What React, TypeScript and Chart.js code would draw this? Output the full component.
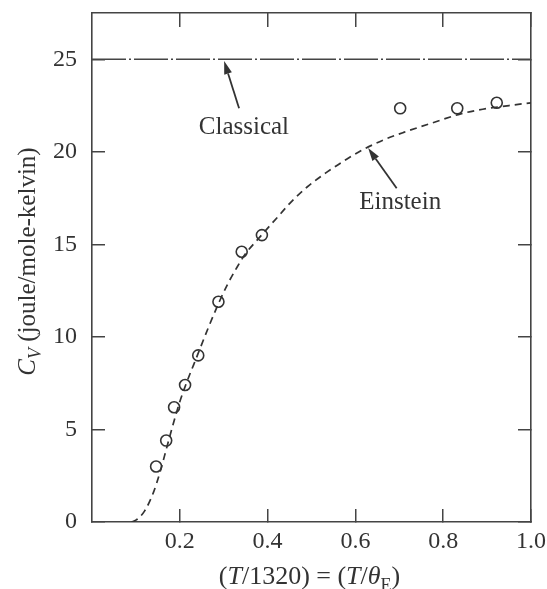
import React, { useEffect, useRef } from 'react';
import { Chart, registerables } from 'chart.js';

Chart.register(...registerables);

// ---- data ----
const classicalT = [0, 1.0];
const classicalC = [25, 25];

const einsteinT = [0.09, 0.1, 0.12, 0.14, 0.155, 0.17, 0.185, 0.2, 0.215, 0.24, 0.265, 0.29, 0.31, 0.33, 0.35, 0.375, 0.42, 0.45, 0.49, 0.535, 0.58, 0.62, 0.665, 0.71, 0.78, 0.84, 0.89, 0.95, 1.0];
const einsteinC = [0, 0.1, 0.6, 1.6, 2.7, 4.0, 5.3, 6.5, 7.5, 9.0, 10.5, 11.9, 12.9, 13.75, 14.5, 15.2, 16.4, 17.2, 18.1, 18.9, 19.6, 20.15, 20.65, 21.05, 21.6, 22.05, 22.3, 22.5, 22.65];

const measuredT = [0.146, 0.169, 0.187, 0.212, 0.242, 0.288, 0.341, 0.387, 0.702, 0.832, 0.922];
const measuredC = [3.0, 4.4, 6.2, 7.4, 9.0, 11.9, 14.6, 15.5, 22.35, 22.35, 22.65];

const xTickValues = [0.2, 0.4, 0.6, 0.8, 1.0];
const yTickValues = [0, 5, 10, 15, 20, 25];

// annotation labels: [text, x, y(baseline)] and arrows [fromX, fromY, toX, toY] in data units
const annotationLabels: [string, number, number][] = [
  ['Classical', 0.346, 20.97],
  ['Einstein', 0.702, 16.92],
];
const annotationArrows: [number, number, number, number][] = [
  [0.335, 22.35, 0.301, 24.9],
  [0.694, 18.03, 0.629, 20.2],
];

const FONT = 'Liberation Serif';
const INK = '#333333';

type Seg = { t: string; it?: boolean; sub?: boolean };

function segFont(s: Seg, size: number) {
  const sz = s.sub ? Math.round(size * 0.7) : size;
  return `${s.it ? 'italic ' : ''}${sz}px "${FONT}"`;
}

function drawSegs(ctx: CanvasRenderingContext2D, segs: Seg[], x: number, y: number, size: number) {
  const widths = segs.map((s) => {
    ctx.font = segFont(s, size);
    return ctx.measureText(s.t).width;
  });
  const total = widths.reduce((a, b) => a + b, 0);
  let cx = x - total / 2;
  segs.forEach((s, i) => {
    ctx.font = segFont(s, size);
    ctx.fillText(s.t, cx, s.sub ? y + size * 0.25 : y);
    cx += widths[i];
  });
}

const xTitle: Seg[] = [
  { t: '(' },
  { t: 'T', it: true },
  { t: '/1320) = (' },
  { t: 'T', it: true },
  { t: '/' },
  { t: 'θ', it: true },
  { t: 'E', sub: true },
  { t: ')' },
];
const yTitle: Seg[] = [
  { t: 'C', it: true },
  { t: 'V', it: true, sub: true },
  { t: ' (joule/mole-kelvin)' },
];

const textPlugin = {
  id: 'textPlugin',
  afterDatasetsDraw(chart: any) {
    const ctx: CanvasRenderingContext2D = chart.ctx;
    const xs = chart.scales.x;
    const ys = chart.scales.y;
    const area = chart.chartArea;
    ctx.save();
    ctx.fillStyle = INK;
    ctx.strokeStyle = INK;
    ctx.textAlign = 'left';
    ctx.textBaseline = 'alphabetic';

    // axis titles
    drawSegs(ctx, xTitle, (area.left + area.right) / 2 - 2, 584, 26);
    ctx.save();
    ctx.translate(35, (area.top + area.bottom) / 2 - 6);
    ctx.rotate(-Math.PI / 2);
    drawSegs(ctx, yTitle, 0, 0, 25);
    ctx.restore();

    // annotation labels
    annotationLabels.forEach(([t, x, y]) => {
      drawSegs(ctx, [{ t }], xs.getPixelForValue(x), ys.getPixelForValue(y), 25);
    });

    // arrows
    ctx.lineWidth = 1.8;
    annotationArrows.forEach(([x1, y1, x2, y2]) => {
      const px1 = xs.getPixelForValue(x1);
      const py1 = ys.getPixelForValue(y1);
      const px2 = xs.getPixelForValue(x2);
      const py2 = ys.getPixelForValue(y2);
      const ang = Math.atan2(py2 - py1, px2 - px1);
      const headLen = 13;
      const headW = 4;
      const bx = px2 - headLen * Math.cos(ang);
      const by = py2 - headLen * Math.sin(ang);
      ctx.beginPath();
      ctx.moveTo(px1, py1);
      ctx.lineTo(bx, by);
      ctx.stroke();
      ctx.beginPath();
      ctx.moveTo(px2, py2);
      ctx.lineTo(bx + headW * Math.sin(ang), by - headW * Math.cos(ang));
      ctx.lineTo(bx - headW * Math.sin(ang), by + headW * Math.cos(ang));
      ctx.closePath();
      ctx.fill();
    });
    ctx.restore();
  },
};

export default function App() {
  const ref = useRef<HTMLCanvasElement | null>(null);

  useEffect(() => {
    if (!ref.current) return;
    const tickFont = { family: FONT, size: 24 };
    const grid = (len: number) => ({
      drawOnChartArea: false,
      drawTicks: true,
      tickLength: len,
      color: '#444',
      lineWidth: 1.5,
    });
    const border = { display: true, color: '#444', width: 1.6 };
    const zeroPad = (s: any) => {
      s.paddingLeft = 0;
      s.paddingRight = 0;
      s.paddingTop = 0;
      s.paddingBottom = 0;
    };

    const chart = new Chart(ref.current, {
      type: 'scatter',
      data: {
        datasets: [
          {
            type: 'line',
            label: 'Classical',
            data: classicalT.map((t, i) => ({ x: t, y: classicalC[i] })),
            borderColor: '#444',
            borderWidth: 1.6,
            borderDash: [34, 3, 2, 3],
            pointRadius: 0,
            fill: false,
          },
          {
            type: 'line',
            label: 'Einstein',
            data: einsteinT.map((t, i) => ({ x: t, y: einsteinC[i] })),
            borderColor: INK,
            borderWidth: 1.7,
            borderDash: [7, 5],
            cubicInterpolationMode: 'monotone',
            pointRadius: 0,
            fill: false,
          },
          {
            type: 'scatter',
            label: 'Measured',
            data: measuredT.map((t, i) => ({ x: t, y: measuredC[i] })),
            pointStyle: 'circle',
            pointRadius: 5.5,
            borderColor: INK,
            borderWidth: 1.6,
            backgroundColor: 'rgba(0,0,0,0)',
          },
        ] as any,
      },
      options: {
        responsive: false,
        animation: false,
        devicePixelRatio: 1,
        layout: { padding: { left: 0, top: 13, right: 16, bottom: 0 } },
        plugins: {
          legend: { display: false },
          tooltip: { enabled: false },
          title: { display: false },
        },
        scales: {
          x: {
            type: 'linear',
            position: 'bottom',
            min: 0,
            max: 1.0,
            afterBuildTicks: (s: any) => {
              s.ticks = xTickValues.map((v) => ({ value: v }));
            },
            ticks: {
              font: tickFont,
              color: INK,
              padding: 18,
              maxRotation: 0,
              minRotation: 0,
              autoSkip: false,
              callback: (v: any) => Number(v).toFixed(1),
            },
            grid: grid(-13),
            border,
            afterFit: (s: any) => {
              s.height = 67;
              zeroPad(s);
            },
          },
          x2: {
            type: 'linear',
            position: 'top',
            min: 0,
            max: 1.0,
            afterBuildTicks: (s: any) => {
              s.ticks = xTickValues.map((v) => ({ value: v }));
            },
            ticks: { display: false },
            grid: grid(-14),
            border,
            afterFit: (s: any) => {
              s.height = 0;
              zeroPad(s);
            },
          },
          y: {
            type: 'linear',
            position: 'left',
            min: 0,
            max: 27.5,
            afterBuildTicks: (s: any) => {
              s.ticks = yTickValues.map((v) => ({ value: v }));
            },
            ticks: {
              font: tickFont,
              color: INK,
              padding: 28,
              autoSkip: false,
              callback: (v: any) => String(v),
            },
            grid: grid(-13),
            border,
            afterFit: (s: any) => {
              s.width = 92;
              zeroPad(s);
            },
          },
          y2: {
            type: 'linear',
            position: 'right',
            min: 0,
            max: 27.5,
            afterBuildTicks: (s: any) => {
              s.ticks = yTickValues.map((v) => ({ value: v }));
            },
            ticks: { display: false },
            grid: grid(-13),
            border,
            afterFit: (s: any) => {
              s.width = 0;
              zeroPad(s);
            },
          },
        },
      } as any,
      plugins: [textPlugin],
    });
    return () => chart.destroy();
  }, []);

  return (
    <div style={{ position: 'fixed', left: 0, top: 0, width: 547, height: 589, background: '#fff' }}>
      <canvas ref={ref} width={547} height={589} style={{ display: 'block' }} />
    </div>
  );
}
